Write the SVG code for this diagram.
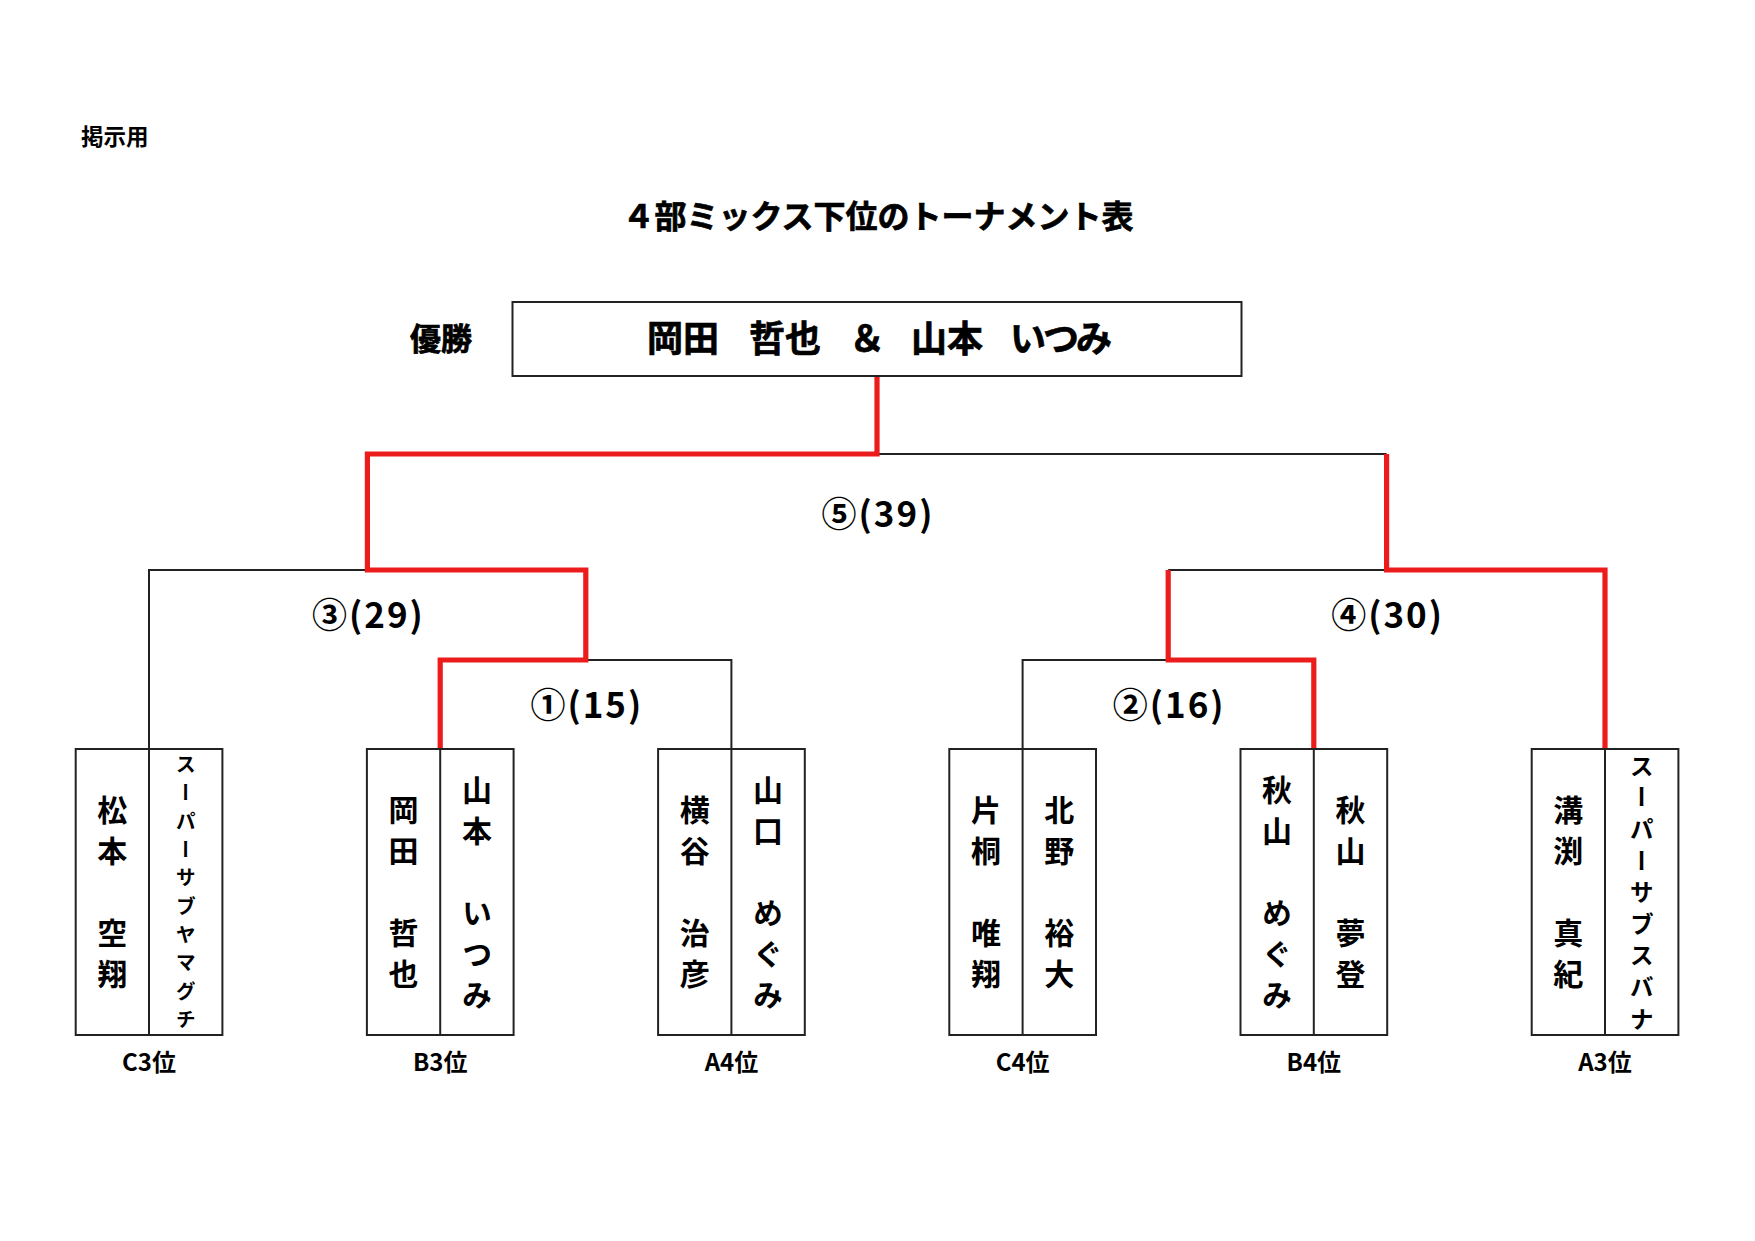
<svg xmlns="http://www.w3.org/2000/svg" width="1755" height="1241" viewBox="0 0 1755 1241">
<style>
.t{font-family:"Noto Sans CJK JP","Noto Sans CJK SC",sans-serif;font-weight:700;fill:#000}
.heavy{stroke:#000;stroke-width:0.7px;paint-order:stroke}
.thin{stroke:#222;stroke-width:2;fill:none}
.red{stroke:#ec1c1c;stroke-width:5.2;fill:none;stroke-linejoin:miter;stroke-linecap:butt}
.box{fill:#fff;stroke:#222;stroke-width:2}
.v{writing-mode:vertical-rl;text-orientation:mixed}
.k{font-size:30px;letter-spacing:11px}
.s1{font-size:20px;letter-spacing:8.3px}
.s2{font-size:24px;letter-spacing:7.6px}
.num{font-size:35px;letter-spacing:2px;text-anchor:middle}
.rank{font-size:24px;text-anchor:middle}
</style>
<rect width="1755" height="1241" fill="#fff"/>
<text class="t" x="81" y="145" font-size="22.5">掲示用</text>
<text class="t heavy" x="878" y="228" font-size="32" text-anchor="middle">４部ミックス下位のトーナメント表</text>

<g id="connectors">
  <polyline class="thin" points="877,454 1386.6,454"/>
  <polyline class="thin" points="149,749 149,570 367.4,570"/>
  <polyline class="thin" points="585.8,660 731.4,660 731.4,749"/>
  <polyline class="thin" points="1168.2,570 1386.6,570"/>
  <polyline class="thin" points="1022.6,749 1022.6,660 1168.2,660"/>
  <polyline class="red" points="877,377 877,454 367.4,454 367.4,570 585.8,570 585.8,660 440.2,660 440.2,749"/>
  <polyline class="red" points="1386.6,454 1386.6,570 1605,570 1605,749"/>
  <polyline class="red" points="1168.2,570 1168.2,660 1313.8,660 1313.8,749"/>
</g>

<g id="labels">
  <text class="t num" x="878" y="527">⑤(39)</text>
  <text class="t num" x="368.4" y="628">③(29)</text>
  <text class="t num" x="1387.6" y="628">④(30)</text>
  <text class="t num" x="586.8" y="718">①(15)</text>
  <text class="t num" x="1169.2" y="718">②(16)</text>
</g>

<g id="champion">
  <text class="t heavy" x="441" y="350" font-size="31" text-anchor="middle">優勝</text>
  <rect class="box" x="512.5" y="302" width="729" height="74"/>
  <text class="t heavy" y="352" font-size="36"><tspan x="647">岡田</tspan><tspan x="749">哲也</tspan><tspan x="849">＆</tspan><tspan x="911">山本</tspan><tspan x="1010" letter-spacing="-3">いつみ</tspan></text>
</g>

<g id="team-c3">
  <rect class="box" x="75.7" y="749" width="146.7" height="286"/>
  <line class="thin" x1="149" y1="749" x2="149" y2="1035"/>
  <text class="t v k" x="112.3" y="795">松本　空翔</text>
  <text class="t v s1" x="185.7" y="754.6">スーパーサブヤマグチ</text>
  <text class="t rank" x="149" y="1071">C3位</text>
</g>

<g id="team-b3">
  <rect class="box" x="366.9" y="749" width="146.7" height="286"/>
  <line class="thin" x1="440.2" y1="749" x2="440.2" y2="1035"/>
  <text class="t v k" x="403.5" y="795">岡田　哲也</text>
  <text class="t v k" x="476.9" y="774.5">山本　いつみ</text>
  <text class="t rank" x="440.2" y="1071">B3位</text>
</g>

<g id="team-a4">
  <rect class="box" x="658.1" y="749" width="146.7" height="286"/>
  <line class="thin" x1="731.4" y1="749" x2="731.4" y2="1035"/>
  <text class="t v k" x="694.7" y="795">横谷　治彦</text>
  <text class="t v k" x="768.1" y="774.5">山口　めぐみ</text>
  <text class="t rank" x="731.4" y="1071">A4位</text>
</g>

<g id="team-c4">
  <rect class="box" x="949.3" y="749" width="146.7" height="286"/>
  <line class="thin" x1="1022.6" y1="749" x2="1022.6" y2="1035"/>
  <text class="t v k" x="985.9" y="795">片桐　唯翔</text>
  <text class="t v k" x="1059.3" y="795">北野　裕大</text>
  <text class="t rank" x="1022.6" y="1071">C4位</text>
</g>

<g id="team-b4">
  <rect class="box" x="1240.5" y="749" width="146.7" height="286"/>
  <line class="thin" x1="1313.8" y1="749" x2="1313.8" y2="1035"/>
  <text class="t v k" x="1277.1" y="774.5">秋山　めぐみ</text>
  <text class="t v k" x="1350.5" y="795">秋山　夢登</text>
  <text class="t rank" x="1313.8" y="1071">B4位</text>
</g>

<g id="team-a3">
  <rect class="box" x="1531.7" y="749" width="146.7" height="286"/>
  <line class="thin" x1="1605" y1="749" x2="1605" y2="1035"/>
  <text class="t v k" x="1568.3" y="795">溝渕　真紀</text>
  <text class="t v s2" x="1641.7" y="753.6">スーパーサブスバナ</text>
  <text class="t rank" x="1605" y="1071">A3位</text>
</g>
</svg>
